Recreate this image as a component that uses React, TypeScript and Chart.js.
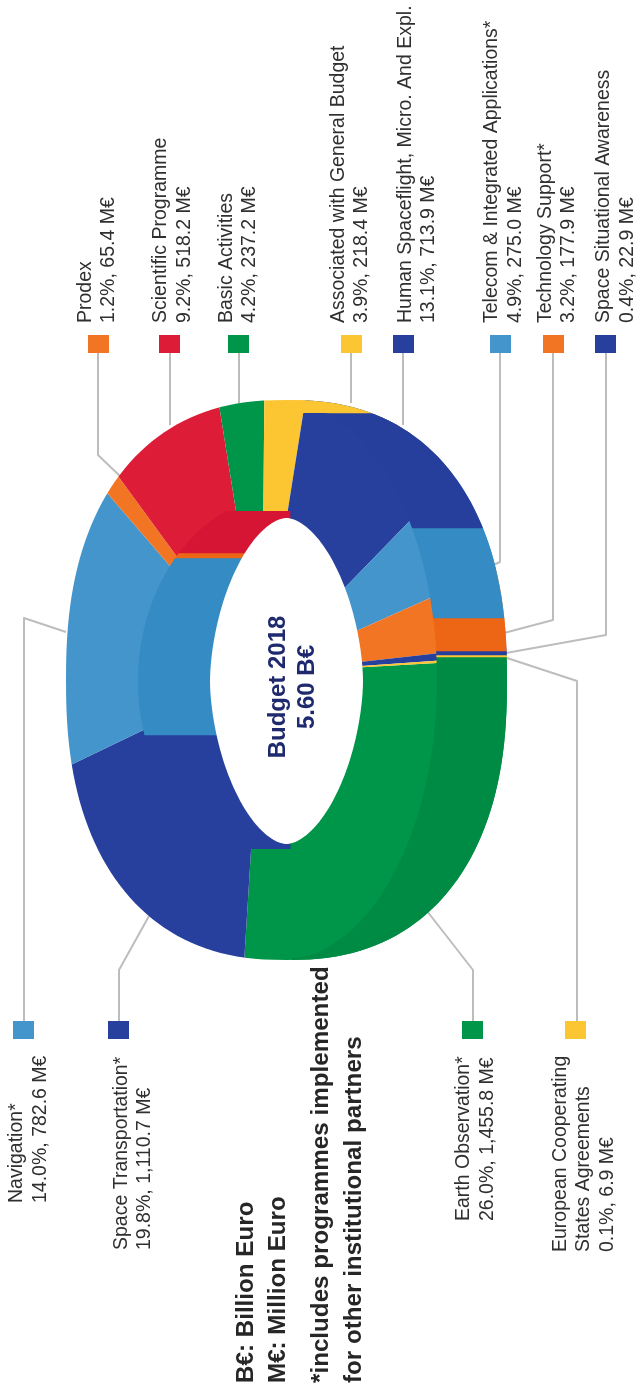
import React, { useEffect, useRef } from "react";
import { Chart, registerables } from "chart.js";

Chart.register(...registerables);

// ---------- data ----------
const programmes = [
  "Earth Observation*", "Space Transportation*", "Navigation*", "Prodex", "Scientific Programme",
  "Basic Activities", "Associated with General Budget", "Human Spaceflight, Micro. And Expl.",
  "Telecom & Integrated Applications*", "Technology Support*", "Space Situational Awareness",
  "European Cooperating States Agreements",
];
const budgetMEuro = [1455.8, 1110.7, 782.6, 65.4, 518.2, 237.2, 218.4, 713.9, 275.0, 177.9, 22.9, 6.9];
const surfaceColors = ["#00964A", "#273F9D", "#4495CB", "#F27523", "#DD1C37", "#00964A", "#FBC632", "#273F9D", "#4495CB", "#F27523", "#273F9D", "#FBC632"];

// Fold bands of the drawn 3-D ring in scale units
const wallLeftBands = [553, 5, 177, 115, 0, 0, 0];
const wallRightBands = [413, 115, 90, 33, 4, 2, 734];
const wallLeftColors = ["#D61535", "#EC6615", "#358CC4", "#273F9D", "#273F9D", "#273F9D", "#273F9D"];
const wallRightColors = ["#FBC632", "#263E9C", "#358CC4", "#EC6615", "#263E9C", "#FBC632", "#008B44"];

const topLabels = [
  ["Prodex", "1.2%, 65.4 M€"],
  ["Scientific Programme", "9.2%, 518.2 M€"],
  ["Basic Activities", "4.2%, 237.2 M€"],
  ["Associated with General Budget", "3.9%, 218.4 M€"],
  ["Human Spaceflight, Micro. And Expl.", "13.1%, 713.9 M€"],
  ["Telecom & Integrated Applications*", "4.9%, 275.0 M€"],
  ["Technology Support*", "3.2%, 177.9 M€"],
  ["Space Situational Awareness", "0.4%, 22.9 M€"],
];
const bottomLabels = [
  ["Navigation*", "14.0%, 782.6 M€"],
  ["Space Transportation*", "19.8%, 1,110.7 M€"],
  ["Earth Observation*", "26.0%, 1,455.8 M€"],
  ["European Cooperating", "States Agreements", "0.1%, 6.9 M€"],
];
const centerLabels = ["Budget 2018", "5.60 B€"];
const footnotes = ["B€: Billion Euro", "M€: Million Euro", "*includes programmes implemented", "for other institutional partners"];

// ---------- layout ----------
const W = 636, H = 1391;
const topBaselines = [[91, 114], [166, 190], [232, 255], [344, 367], [411, 434], [497, 521], [551, 574], [609, 633]];
const topSwatchX = [88, 159, 228, 341, 393, 490, 543, 595];
const topSwatchColors = ["#F27523", "#DD1C37", "#00964A", "#FBC632", "#273F9D", "#4495CB", "#F27523", "#273F9D"];
const bottomBaselines = [[22, 46], [127, 150], [469, 493], [566, 589, 613]];
const bottomStart = [1203, 1250, 1221, 1252];
const bottomSwatchX = [13, 108, 462, 565];
const bottomSwatchColors = ["#4495CB", "#273F9D", "#00964A", "#FBC632"];
const footBaselines = [253, 285, 328, 361];
const leaders: number[][][] = [
  [[98, 353], [98, 455], [122, 478]],
  [[170, 353], [170, 425]],
  [[239, 353], [239, 403]],
  [[351, 353], [351, 403]],
  [[403, 353], [403, 425]],
  [[500, 353], [500, 562], [491, 566]],
  [[553, 353], [553, 620], [504, 633]],
  [[606, 353], [606, 635], [506, 653]],
  [[24, 1021], [24, 618], [66, 632]],
  [[119, 1021], [119, 970], [149, 916]],
  [[473, 1021], [473, 970], [427, 911]],
  [[577, 1021], [577, 681], [507, 658]],
];

type Shape = { cx: number; cy: number; rx: number; ry: number; n: number };
const outer: Shape = { cx: 286.5, cy: 680, rx: 220.5, ry: 280, n: 2.35 };
const hole: Shape = { cx: 286.5, cy: 681, rx: 76.5, ry: 163, n: 1.75 };
const leftFold: Shape = { cx: 287, cy: 681, rx: 149, ry: 186, n: 2 };
const rightFold: Shape = { cx: 281, cy: 680, rx: 156, ry: 280, n: 2 };

function pt(s: Shape, deg: number) {
  const t = (deg * Math.PI) / 180;
  const c = Math.cos(t), d = Math.sin(t);
  return [
    s.cx + s.rx * Math.sign(c) * Math.pow(Math.abs(c), 2 / s.n),
    s.cy + s.ry * Math.sign(d) * Math.pow(Math.abs(d), 2 / s.n),
  ];
}
function trace(ctx: CanvasRenderingContext2D, s: Shape) {
  ctx.beginPath();
  for (let a = 0; a < 360; a += 2) {
    const [x, y] = pt(s, a);
    if (a === 0) ctx.moveTo(x, y); else ctx.lineTo(x, y);
  }
  ctx.closePath();
}
const clampY = (y: number, lo: number, hi: number) => Math.min(hi, Math.max(lo, y));

function vText(ctx: CanvasRenderingContext2D, s: string, x: number, y: number, font: string, color: string, align: CanvasTextAlign = "left") {
  ctx.save();
  ctx.translate(x, y);
  ctx.rotate(-Math.PI / 2);
  ctx.font = font;
  ctx.fillStyle = color;
  ctx.textAlign = align;
  ctx.textBaseline = "alphabetic";
  ctx.fillText(s, 0, 0);
  ctx.restore();
}

const pieProjection = { cx: 262, cy: 673, scale: 1.6, squash: 1.65, shear: -0.07 };

const surfacePlugin = {
  id: "surface",
  beforeDatasetsDraw(chart: any) {
    const ctx: CanvasRenderingContext2D = chart.ctx;
    ctx.save();
    ctx.strokeStyle = "#BDBDBD";
    ctx.lineWidth = 2;
    ctx.lineJoin = "round";
    leaders.forEach((l) => {
      ctx.beginPath();
      l.forEach(([x, y], i) => (i ? ctx.lineTo(x, y) : ctx.moveTo(x, y)));
      ctx.stroke();
    });
    ctx.restore();
    ctx.save();
    trace(ctx, outer);
    ctx.clip();
    const p = pieProjection;
    const a = chart.getDatasetMeta(0).data[0];
    ctx.translate(p.cx, p.cy);
    ctx.transform(p.scale, 0, p.shear * p.scale, p.squash * p.scale, 0, 0);
    ctx.translate(-a.x, -a.y);
  },
  afterDatasetsDraw(chart: any) {
    chart.ctx.restore();
  },
};

const overlayPlugin = {
  id: "overlay",
  beforeDatasetsDraw(chart: any) {
    const ctx: CanvasRenderingContext2D = chart.ctx;
    ctx.save();
    ctx.beginPath();
    // inner wall seen on the left
    for (let a = 90; a <= 270; a += 2) {
      const [x, y] = pt(leftFold, a);
      if (a === 90) ctx.moveTo(x, clampY(y, 511, 849)); else ctx.lineTo(x, clampY(y, 511, 849));
    }
    ctx.lineTo(292, 511);
    ctx.lineTo(292, 849);
    ctx.closePath();
    // outer wall seen on the right
    for (let a = -90; a <= 90; a += 2) {
      const [x, y] = pt(outer, a);
      const px = Math.max(x, 292);
      if (a === -90) ctx.moveTo(px, y); else ctx.lineTo(px, y);
    }
    for (let a = 90; a >= -90; a -= 2) {
      const [x, y] = pt(rightFold, a);
      ctx.lineTo(Math.max(x, 292), clampY(y, 413, 958));
    }
    ctx.closePath();
    ctx.clip();
  },
  afterDatasetsDraw(chart: any) {
    const ctx: CanvasRenderingContext2D = chart.ctx;
    ctx.restore();
    ctx.save();
    trace(ctx, hole);
    ctx.fillStyle = "#FFFFFF";
    ctx.fill();
    ctx.restore();

    const font = '19.5px "Liberation Sans"';
    const bold = 'bold 24.2px "Liberation Sans"';
    const ink = "#303030";
    topLabels.forEach((lines, i) => {
      lines.forEach((s, j) => vText(ctx, s, topBaselines[i][j], 323, font, ink));
      ctx.fillStyle = topSwatchColors[i];
      ctx.fillRect(topSwatchX[i], 335, 21, 18);
    });
    bottomLabels.forEach((lines, i) => {
      lines.forEach((s, j) => vText(ctx, s, bottomBaselines[i][j], bottomStart[i], font, ink));
      ctx.fillStyle = bottomSwatchColors[i];
      ctx.fillRect(bottomSwatchX[i], 1021, 21, 18);
    });
    footnotes.forEach((s, i) => vText(ctx, s, footBaselines[i], 1383, bold, "#262626"));
    vText(ctx, centerLabels[0], 285, 687, 'bold 24px "Liberation Sans"', "#1F2A6E", "center");
    vText(ctx, centerLabels[1], 314, 687, 'bold 24px "Liberation Sans"', "#1F2A6E", "center");
  },
};

export default function App() {
  const baseRef = useRef<HTMLCanvasElement>(null);
  const topRef = useRef<HTMLCanvasElement>(null);

  useEffect(() => {
    const base = new Chart(baseRef.current!, {
      type: "doughnut",
      data: {
        labels: programmes,
        datasets: [{ data: budgetMEuro, backgroundColor: surfaceColors, borderWidth: 0 }],
      },
      options: {
        animation: false,
        responsive: false,
        cutout: 0,
        rotation: 88,
        plugins: { legend: { display: false }, tooltip: { enabled: false } },
      },
      plugins: [surfacePlugin],
    } as any);

    const top = new Chart(topRef.current!, {
      type: "bar",
      data: {
        labels: ["wall left", "wall right"],
        datasets: wallLeftBands.map((v, i) => ({
          data: [v, wallRightBands[i]],
          backgroundColor: [wallLeftColors[i], wallRightColors[i]],
          borderWidth: 0,
          barPercentage: 1,
          categoryPercentage: 1,
        })),
      },
      options: {
        animation: false,
        responsive: false,
        layout: { padding: { right: 56 } },
        scales: {
          x: { stacked: true, display: false },
          y: { stacked: true, display: false, reverse: true, min: 0, max: H },
        },
        plugins: { legend: { display: false }, tooltip: { enabled: false } },
      },
      plugins: [overlayPlugin],
    } as any);

    return () => {
      base.destroy();
      top.destroy();
    };
  }, []);

  const layer: React.CSSProperties = { position: "absolute", left: 0, top: 0, display: "block" };
  return (
    <div style={{ position: "absolute", left: 0, top: 0, width: W, height: H, background: "#fff", overflow: "hidden" }}>
      <canvas ref={baseRef} width={W} height={H} style={layer} />
      <canvas ref={topRef} width={W} height={H} style={layer} />
    </div>
  );
}
